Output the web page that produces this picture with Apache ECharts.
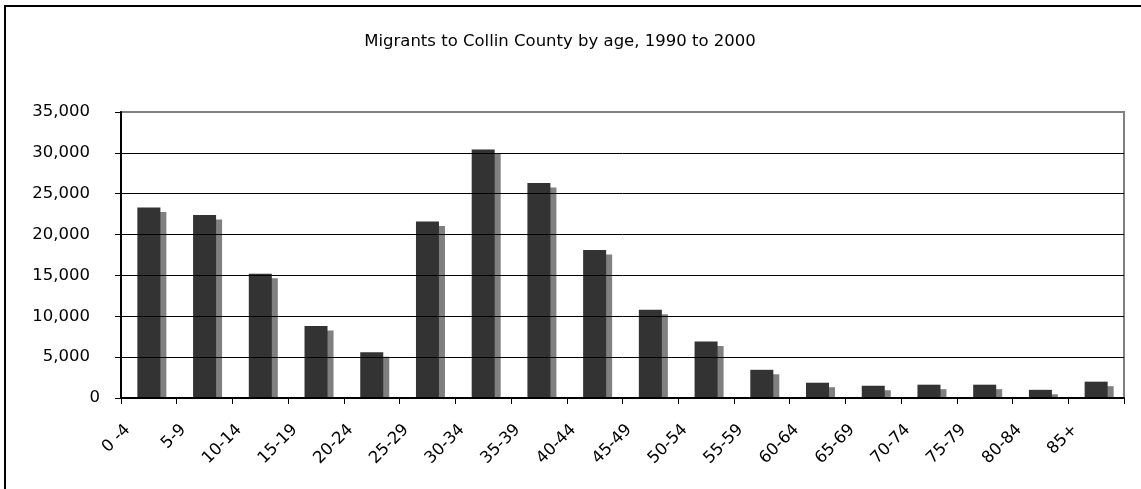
<!DOCTYPE html>
<html>
<head>
<meta charset="utf-8">
<script src="https://cdn.jsdelivr.net/npm/echarts@6/dist/echarts.min.js"></script>
<style>
html,body{margin:0;padding:0;background:#fff;}
#frame{position:absolute;left:4px;top:5px;width:1200px;height:600px;border-left:2px solid #000;border-top:2px solid #000;box-sizing:border-box;}
#chart{position:absolute;left:0;top:0;width:1141px;height:489px;}
</style>
</head>
<body>
<div id="frame"></div>
<div id="chart"></div>
<script>
const titleText = 'Migrants to Collin County by age, 1990 to 2000';
const categories = ['0 -4','5-9','10-14','15-19','20-24','25-29','30-34','35-39','40-44','45-49','50-54','55-59','60-64','65-69','70-74','75-79','80-84','85+'];
const migrants = [23300, 22400, 15200, 8800, 5600, 21600, 30400, 26300, 18100, 10800, 6900, 3450, 1870, 1500, 1630, 1630, 1000, 2000];
const yMin = 0, yMax = 35000, yStep = 5000;

const FONT = 'DejaVu Sans';
const chart = echarts.init(document.getElementById('chart'), null, {renderer:'canvas'});

function fmt(v){ return v.toLocaleString('en-US'); }

chart.setOption({
  animation: false,
  title: {
    text: titleText,
    left: 555, top: 28, textAlign: 'center',
    textStyle: {fontFamily: FONT, fontSize: 16.5, fontWeight: 'normal', color: '#000'}
  },
  grid: {
    left: 121, right: 17, top: 112, bottom: 91,
    show: true, borderColor: '#808080', borderWidth: 2, backgroundColor: 'transparent'
  },
  xAxis: {
    type: 'category',
    data: categories,
    z: 5,
    axisLine: {lineStyle: {color: '#000', width: 2}},
    axisTick: {show: true, length: 6, lineStyle: {color: '#000', width: 1}},
    axisLabel: {
      rotate: 45, margin: 8, padding: [0, 30, 0, 0],
      fontFamily: FONT, fontSize: 16.5, color: '#000', interval: 0
    },
    splitLine: {show: false}
  },
  yAxis: {
    type: 'value',
    min: yMin, max: yMax, interval: yStep,
    z: 5,
    axisLine: {show: true, lineStyle: {color: '#000', width: 2}},
    axisTick: {show: true, length: 6, lineStyle: {color: '#000', width: 1}},
    axisLabel: {
      margin: 21,
      fontFamily: FONT, fontSize: 16.5, color: '#000',
      formatter: function(v){ return v === 0 ? '{z|0}' : '{n|' + fmt(v) + '}'; },
      rich: {
        z: {fontFamily: FONT, fontSize: 16.5, color: '#000'},
        n: {fontFamily: FONT, fontSize: 16.5, color: '#000', padding: [0, 10, 0, 0]}
      }
    },
    splitLine: {show: true, showMinLine: false, showMaxLine: false, lineStyle: {color: '#000', width: 1}}
  },
  series: [{
    type: 'custom',
    data: migrants.map((v, i) => [i, v]),
    encode: {x: 0, y: 1},
    z: 2,
    renderItem: function(params, api){
      const idx = api.value(0);
      const top = api.coord([idx, api.value(1)]);
      const base = api.coord([idx, 0]);
      const band = api.size([1, 0])[0];
      const w = band * 0.413;
      const left = top[0] - w / 2;
      const dx = 6, dy = 4.5;
      return {
        type: 'group',
        children: [
          {type: 'rect', shape: {x: left + dx, y: top[1] + dy, width: w, height: Math.max(0, base[1] - top[1] - dy)}, style: {fill: '#808080'}},
          {type: 'rect', shape: {x: left, y: top[1], width: w, height: base[1] - top[1]}, style: {fill: '#333333'}}
        ]
      };
    }
  }]
});
</script>
</body>
</html>
